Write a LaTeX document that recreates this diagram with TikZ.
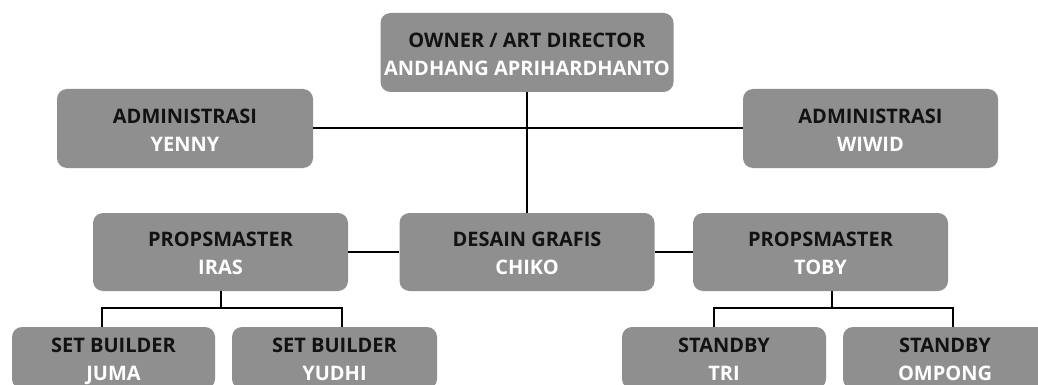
\documentclass[tikz,border=0pt]{standalone}
\usepackage{fontspec}
\setmainfont{Open Sans}
\definecolor{boxgray}{RGB}{143,143,143}
\definecolor{inkblack}{RGB}{18,18,18}
\tikzset{
  post/.style={fill=boxgray, rounded corners=10pt, align=center, inner sep=0pt,
    font=\bfseries\fontsize{20}{28}\selectfont},
  link/.style={line width=2pt, black}
}
\newcommand{\rolename}[2]{\textcolor{inkblack}{\rule{0pt}{19.6pt}\smash{#1}}\\
  \textcolor{white}{\rule[-2.3pt]{0pt}{2.3pt}\smash{#2}}}

\begin{document}
\begin{tikzpicture}[x=1pt,y=-1pt]
  \useasboundingbox (0,0) rectangle (1038,385);
  \clip (0,0) rectangle (1038,385);
  \fill[white] (0,0) rectangle (1038,385);

  \node[post, minimum width=293pt, minimum height=79pt] (owner) at (527,52.5)
    {\rolename{OWNER / ART DIRECTOR}{ANDHANG APRIHARDHANTO}};
  \foreach \name/\x/\y/\w/\h/\job/\who in {
      yenny/185/128.5/256/79/ADMINISTRASI/YENNY,
      wiwid/870.5/128.5/255/79/ADMINISTRASI/WIWID,
      iras/220.5/252/255/78/PROPSMASTER/IRAS,
      desain/527/252/255/78/DESAIN GRAFIS/CHIKO,
      toby/820.5/252/255/78/PROPSMASTER/TOBY,
      juma/113.5/358/203/62/SET BUILDER/JUMA,
      yudhi/334.5/358/205/62/SET BUILDER/YUDHI,
      tri/724/358/204/62/STANDBY/TRI,
      ompong/945/358/204/62/STANDBY/OMPONG} {
    \node[post, minimum width=\w pt, minimum height=\h pt] (\name) at (\x,\y)
      {\rolename{\job}{\who}};
  }

  \draw[link] (owner.south) -- (desain.north);
  \draw[link] (yenny.east) -- (wiwid.west);
  \draw[link] (iras.east) -- (desain.west);
  \draw[link] (desain.east) -- (toby.west);
  \draw[link] (iras.south) -- ++(0,17);
  \draw[link] ([xshift=-11.5pt]juma.north) -- ++(0,-19) -| ([xshift=7.5pt]yudhi.north);
  \draw[link] ([xshift=11.5pt]toby.south) -- ++(0,17);
  \draw[link] ([xshift=-10pt]tri.north) -- ++(0,-19) -| ([xshift=8pt]ompong.north);
\end{tikzpicture}
\end{document}
